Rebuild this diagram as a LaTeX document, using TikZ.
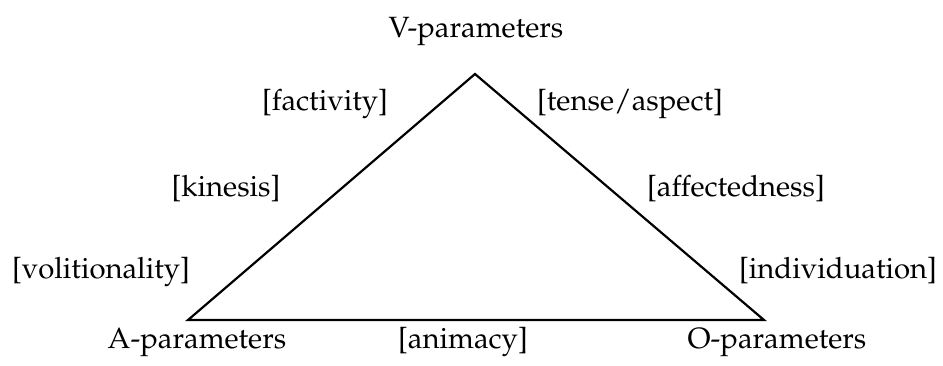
\documentclass[tikz,border=0pt]{standalone}
\usepackage[T1]{fontenc}
\usepackage{mathpazo}
\begin{document}
\begin{tikzpicture}[x=1pt,y=-1pt,
  lbl/.style={anchor=base,inner sep=0pt,font=\fontsize{29.3}{35}\selectfont},
  edge/.style={line width=2.2pt,line join=miter}]
\useasboundingbox (0,0) rectangle (943,365);
% corners of the triangle
\coordinate (V) at (475,74);
\coordinate (A) at (188,320);
\coordinate (O) at (764,320);
\draw[edge] (A) -- (V) -- (O) -- cycle;
% corner labels
\node[lbl] (vp) at (476,37) {V-parameters};
\node[lbl] (ap) at (197,348) {A-parameters};
\node[lbl] (op) at (777,348) {O-parameters};
% side labels
\node[lbl] (fact) at (325,110) {[factivity]};
\node[lbl] (kin) at (226,196) {[kinesis]};
\node[lbl] (vol) at (101,278) {[volitionality]};
\node[lbl] (tense) at (630,110) {[tense/aspect]};
\node[lbl] (aff) at (736,196) {[affectedness]};
\node[lbl] (ind) at (838,278) {[individuation]};
\node[lbl] (anim) at (463,348) {[animacy]};
\end{tikzpicture}
\end{document}
